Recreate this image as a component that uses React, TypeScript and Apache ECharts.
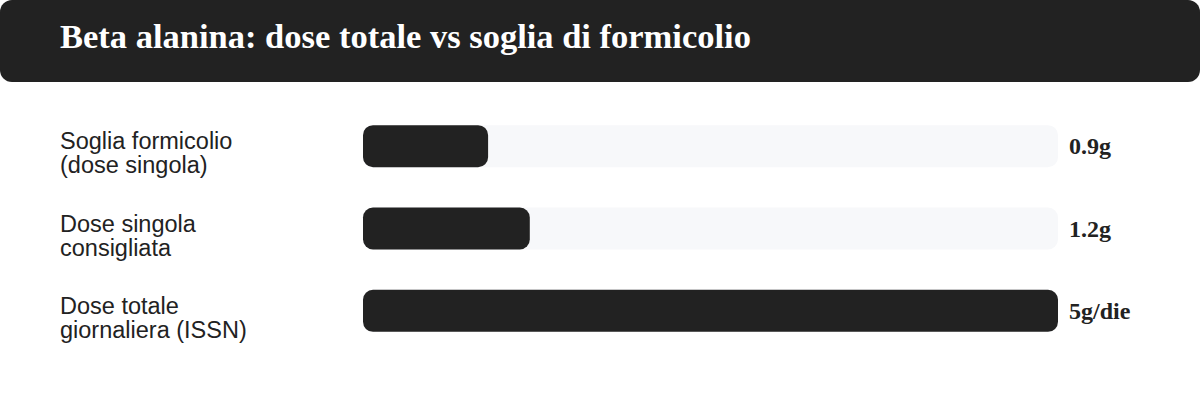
import React, { useEffect, useRef } from "react";
import * as echarts from "echarts";

const title = "Beta alanina: dose totale vs soglia di formicolio";
const categories = ["Soglia formicolio\n(dose singola)", "Dose singola\nconsigliata", "Dose totale\ngiornaliera (ISSN)"];
const values = [0.9, 1.2, 5];
const valueLabels = ["0.9g", "1.2g", "5g/die"];
const axisMax = 5;

const DARK = "#222222";

export default function App() {
  const ref = useRef<HTMLDivElement>(null);
  useEffect(() => {
    if (!ref.current) return;
    const chart = echarts.init(ref.current, undefined, { renderer: "svg" });
    chart.setOption({
      animation: false,
      backgroundColor: "#ffffff",
      graphic: [
        {
          type: "rect",
          shape: { x: 0, y: 0, width: 1200, height: 82, r: 12 },
          style: { fill: DARK },
          z: 0,
        },
        {
          type: "text",
          x: 60,
          y: 36,
          style: {
            text: title,
            fill: "#ffffff",
            font: "bold 34.5px 'Liberation Serif', 'Times New Roman', serif",
            textVerticalAlign: "middle",
          },
          z: 1,
        },
      ],
      grid: { left: 363, right: 142, top: 105, bottom: 48 },
      xAxis: {
        type: "value",
        min: 0,
        max: axisMax,
        show: false,
      },
      yAxis: [
        {
          type: "category",
          data: categories,
          inverse: true,
          axisLine: { show: false },
          axisTick: { show: false },
          splitLine: { show: false },
          axisLabel: {
            align: "left",
            margin: 303,
            color: DARK,
            formatter: (v: string) =>
              "{pad| }\n" + v.split("\n").map((l) => `{t|${l}}`).join("\n"),
            rich: {
              pad: { fontSize: 10, lineHeight: 14 },
              t: {
                color: DARK,
                fontFamily: "'Liberation Sans', Arial, sans-serif",
                fontSize: 23.5,
                lineHeight: 24,
              },
            },
          },
        },
        {
          type: "category",
          data: valueLabels,
          inverse: true,
          position: "right",
          axisLine: { show: false },
          axisTick: { show: false },
          splitLine: { show: false },
          axisLabel: {
            align: "left",
            margin: 11,
            color: DARK,
            fontFamily: "'Liberation Serif', 'Times New Roman', serif",
            fontWeight: "bold",
            fontSize: 24,
          },
        },
      ],
      series: [
        {
          type: "bar",
          data: values,
          yAxisIndex: 0,
          barWidth: 42,
          showBackground: true,
          backgroundStyle: { color: "#f7f8fa", borderRadius: 10 },
          itemStyle: { color: DARK, borderRadius: 10 },
        },
      ],
    });
    return () => chart.dispose();
  }, []);
  return (
    <div
      ref={ref}
      style={{ position: "fixed", left: 0, top: 0, width: 1200, height: 400 }}
    />
  );
}
